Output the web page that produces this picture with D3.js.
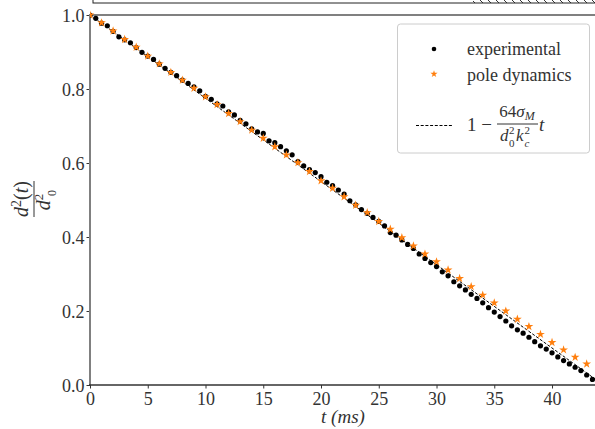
<!DOCTYPE html>
<html><head><meta charset="utf-8">
<script src="https://cdn.jsdelivr.net/npm/d3@7"></script>
<style>body{margin:0;background:#fff;} svg{display:block;}</style>
</head><body>
<svg id="c" width="595" height="429"></svg>
<script>
// ---- data ----
const expT = [0,0.5,1,1.5,2,2.5,3,3.5,4,4.5,5,5.5,6,6.5,7,7.5,8,8.5,9,9.5,10,10.5,11,11.5,12,12.5,13,13.5,14,14.5,15,15.5,16,16.5,17,17.5,18,18.5,19,19.5,20,20.5,21,21.5,22,22.5,23,23.5,24,24.5,25,25.5,26,26.5,27,27.5,28,28.5,29,29.5,30,30.5,31,31.5,32,32.5,33,33.5,34,34.5,35,35.5,36,36.5,37,37.5,38,38.5,39,39.5,40,40.5,41,41.5,42,42.5,43,43.5];
const expV = [1.0,0.991,0.978,0.971,0.956,0.941,0.933,0.925,0.912,0.899,0.889,0.880,0.867,0.856,0.845,0.836,0.824,0.815,0.806,0.795,0.780,0.772,0.760,0.754,0.738,0.730,0.715,0.706,0.692,0.684,0.680,0.660,0.655,0.644,0.633,0.622,0.604,0.592,0.582,0.574,0.563,0.548,0.539,0.527,0.516,0.498,0.487,0.474,0.464,0.453,0.442,0.430,0.412,0.405,0.392,0.380,0.369,0.354,0.342,0.331,0.320,0.306,0.295,0.279,0.268,0.257,0.245,0.234,0.222,0.209,0.197,0.185,0.173,0.160,0.149,0.140,0.129,0.117,0.106,0.097,0.087,0.076,0.066,0.057,0.048,0.039,0.027,0.015];
const poleT = [0,1,2,3,4,5,6,7,8,9,10,11,12,13,14,15,16,17,18,19,20,21,22,23,24,25,26,27,28,29,30,31,32,33,34,35,36,37,38,39,40,41,42,43];
const poleV = [1.0,0.979,0.957,0.934,0.913,0.889,0.868,0.845,0.824,0.802,0.779,0.758,0.734,0.712,0.689,0.667,0.644,0.622,0.601,0.577,0.552,0.532,0.509,0.486,0.466,0.442,0.421,0.398,0.376,0.354,0.333,0.311,0.288,0.266,0.243,0.222,0.200,0.178,0.158,0.137,0.115,0.095,0.075,0.057];
const lineT = [0, 43.72];
const lineV = [1.0, 0.0163];
const xTicks = [0,5,10,15,20,25,30,35,40];
const yTicks = [0.0,0.2,0.4,0.6,0.8,1.0];

// ---- layout ----
const svg = d3.select("#c");
const L = 90, R = 595, T = 15, B = 385;
const x = d3.scaleLinear().domain([0, 43.72]).range([L, R]);
const y = d3.scaleLinear().domain([0, 1]).range([B, T]);
const FONT = "'Liberation Serif','DejaVu Serif',serif";
const ORANGE = "#ff7f0e";

// hatch pattern for the partial box above
const defs = svg.append("defs");
const pat = defs.append("pattern").attr("id","hatch").attr("patternUnits","userSpaceOnUse")
  .attr("width",8).attr("height",8);
pat.append("path").attr("d","M-2,-2 L10,10 M-2,6 L2,10 M6,-2 L10,2").attr("stroke","#000").attr("stroke-width",0.8);
svg.append("rect").attr("x",473).attr("y",-20).attr("width",140).attr("height",23).attr("fill","url(#hatch)");
svg.append("rect").attr("x",93).attr("y",-20).attr("width",520).attr("height",23)
  .attr("fill","none").attr("stroke","#222").attr("stroke-width",1);

// clip
defs.append("clipPath").attr("id","clip").append("rect").attr("x",L).attr("y",T-6).attr("width",R-L+6).attr("height",B-T+12);

// axes
const xAxis = d3.axisBottom(x).tickValues(xTicks).tickSize(3.5).tickPadding(3).tickFormat(d3.format("d"));
const yAxis = d3.axisLeft(y).tickValues(yTicks).tickSize(3.5).tickPadding(2).tickFormat(d3.format(".1f"));
const gx = svg.append("g").attr("transform",`translate(0,${B})`).call(xAxis);
const gy = svg.append("g").attr("transform",`translate(${L},0)`).call(yAxis);
[gx,gy].forEach(g=>{
  g.select(".domain").remove();
  g.selectAll(".tick line").attr("stroke","#333").attr("stroke-width",1);
  g.selectAll(".tick text").attr("font-family",FONT).attr("font-size",18).attr("fill","#333");
});
gx.selectAll(".tick text").attr("dy","0.75em");
gy.selectAll(".tick text").attr("dy","0.35em");

// spines
svg.append("line").attr("x1",L).attr("x2",R).attr("y1",T).attr("y2",T).attr("stroke","#808080").attr("stroke-width",2);
svg.append("line").attr("x1",L).attr("x2",L).attr("y1",T-1).attr("y2",B).attr("stroke","#808080").attr("stroke-width",2);
svg.append("line").attr("x1",L-1).attr("x2",R).attr("y1",B).attr("y2",B).attr("stroke","#333").attr("stroke-width",1.5);

const plot = svg.append("g").attr("clip-path","url(#clip)");
// dashed line
plot.append("path").datum(lineT.map((t,i)=>[t,lineV[i]]))
  .attr("d", d3.line().x(d=>x(d[0])).y(d=>y(d[1])))
  .attr("fill","none").attr("stroke","#000").attr("stroke-width",1).attr("stroke-dasharray","3,1.7");
// experimental dots
plot.selectAll("circle.exp").data(expT.map((t,i)=>[t,expV[i]])).join("circle")
  .attr("class","exp").attr("cx",d=>x(d[0])).attr("cy",d=>y(d[1])).attr("r",2.6).attr("fill","#000");
// pole dynamics stars
const star = d3.symbol().type(d3.symbolStar).size(24);
plot.selectAll("path.pole").data(poleT.map((t,i)=>[t,poleV[i]])).join("path")
  .attr("class","pole").attr("d",star).attr("transform",d=>`translate(${x(d[0])},${y(d[1])})`)
  .attr("fill",ORANGE);

// axis labels
svg.append("text").attr("x",343).attr("y",423).attr("text-anchor","middle")
  .attr("font-family",FONT).attr("font-size",19).attr("fill","#333").attr("font-style","italic")
  .text("t (ms)");
const yl = svg.append("g").attr("transform","translate(33,199) rotate(-90)").attr("font-family",FONT).attr("fill","#333");
yl.append("text").attr("x",0).attr("y",-5).attr("text-anchor","middle").attr("font-size",20)
  .html('<tspan font-style="italic">d</tspan><tspan dy="-7" font-size="14">2</tspan><tspan dy="7">(</tspan><tspan font-style="italic">t</tspan>)');
yl.append("line").attr("x1",-18).attr("x2",18).attr("y1",1).attr("y2",1).attr("stroke","#333").attr("stroke-width",1);
yl.append("text").attr("x",-3).attr("y",17).attr("text-anchor","middle").attr("font-size",20)
  .html('<tspan font-style="italic">d</tspan><tspan dy="-7" font-size="13">2</tspan>');
yl.append("text").attr("x",6).attr("y",23).attr("font-size",12).attr("text-anchor","middle").text("0");

// legend
const lg = svg.append("g").attr("font-family",FONT).attr("fill","#333");
lg.append("rect").attr("x",397.5).attr("y",24).attr("width",192).attr("height",129).attr("rx",3)
  .attr("fill","#fff").attr("fill-opacity",0.8).attr("stroke","#ccc").attr("stroke-width",1);
lg.append("circle").attr("cx",434).attr("cy",49).attr("r",2.3).attr("fill","#000");
lg.append("text").attr("x",467).attr("y",55).attr("font-size",18).text("experimental");
lg.append("path").attr("d",d3.symbol().type(d3.symbolStar).size(16)).attr("transform","translate(434,74)").attr("fill",ORANGE);
lg.append("text").attr("x",467).attr("y",81).attr("font-size",18).text("pole dynamics");
lg.append("line").attr("x1",416).attr("x2",452).attr("y1",125.5).attr("y2",125.5).attr("stroke","#000").attr("stroke-width",1).attr("stroke-dasharray","3,1.7");
lg.append("text").attr("x",467).attr("y",131).attr("font-size",19).text("1 −");
lg.append("text").attr("x",517).attr("y",117).attr("font-size",17).attr("text-anchor","middle")
  .html('64<tspan font-style="italic">σ</tspan><tspan font-size="12" dy="3" font-style="italic">M</tspan>');
lg.append("line").attr("x1",497).attr("x2",538).attr("y1",124).attr("y2",124).attr("stroke","#333").attr("stroke-width",1);
// denominator: d0^2 kc^2
lg.append("text").attr("x",500).attr("y",141).attr("font-size",17).attr("font-style","italic").text("d");
lg.append("text").attr("x",509).attr("y",134).attr("font-size",11).text("2");
lg.append("text").attr("x",509).attr("y",147).attr("font-size",11).text("0");
lg.append("text").attr("x",516).attr("y",141).attr("font-size",17).attr("font-style","italic").text("k");
lg.append("text").attr("x",524.5).attr("y",134).attr("font-size",11).text("2");
lg.append("text").attr("x",524.5).attr("y",147).attr("font-size",11).attr("font-style","italic").text("c");
lg.append("text").attr("x",539).attr("y",131).attr("font-size",19).attr("font-style","italic").text("t");
</script>
</body></html>
